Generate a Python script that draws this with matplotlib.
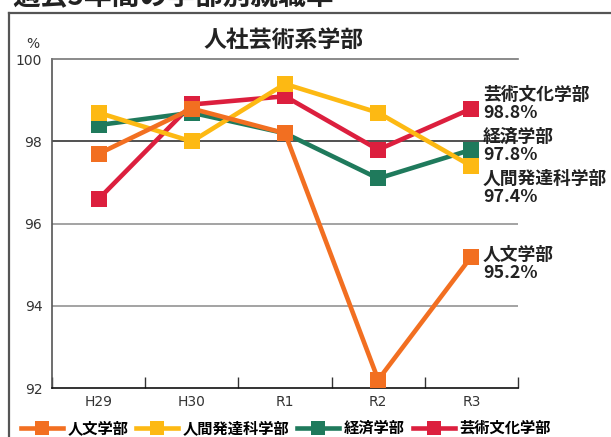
import matplotlib
matplotlib.use("Agg")
import matplotlib.pyplot as plt
from matplotlib.lines import Line2D

plt.rcParams['font.family'] = ['Noto Sans CJK JP', 'DejaVu Sans']

categories = ["H29", "H30", "R1", "R2", "R3"]
series_names = ["人文学部", "人間発達科学部", "経済学部", "芸術文化学部"]
jinbun = [97.7, 98.8, 98.2, 92.2, 95.2]
ningen = [98.7, 98.0, 99.4, 98.7, 97.4]
keizai = [98.4, 98.7, 98.2, 97.1, 97.8]
geijutsu = [96.6, 98.9, 99.1, 97.8, 98.8]
series_values = [jinbun, ningen, keizai, geijutsu]
colors = ["#F26F21", "#FDB913", "#1F7A5C", "#DC1F3E"]
zorders = [6, 5, 4, 3]
yticks = [92, 94, 96, 98, 100]
chart_title = "人社芸術系学部"
page_title = "過去5年間の学部別就職率"
# label block vertical centers (layout) for right-side annotations
label_y = {"芸術文化学部": 98.91, "経済学部": 97.89, "人間発達科学部": 96.86, "人文学部": 95.01}

W, H = 611, 437
fig = plt.figure(figsize=(W / 100, H / 100), dpi=100)
ax = fig.add_axes([52 / W, 1 - 388 / H, (518 - 52) / W, (388 - 59.3) / H])

x = list(range(len(categories)))
for name, vals, c, z in zip(series_names, series_values, colors, zorders):
    ax.plot(x, vals, color=c, lw=3.3, marker='s', markersize=11.2,
            markeredgewidth=0, zorder=z, label=name, solid_joinstyle='miter')

ax.set_xlim(-0.5, len(categories) - 0.5)
ax.set_ylim(92, 100)

for v in yticks[1:-1]:
    ax.axhline(v, color='#222222' if v == 98 else '#8a8a8a', lw=1.1, zorder=1)

ax.set_yticks(yticks)
ax.set_yticklabels([str(v) for v in yticks], fontsize=10, color='#333333',
                   family=['DejaVu Sans'])
ax.tick_params(axis='y', length=0, pad=7)
ax.set_xticks(x)
ax.set_xticklabels(categories, fontsize=10, color='#333333', family=['DejaVu Sans'])
ax.tick_params(axis='x', which='major', length=0, pad=5)
ax.set_xticks([i - 0.5 for i in range(len(categories) + 1)], minor=True)
ax.tick_params(axis='x', which='minor', direction='in', length=8, width=1, color='#333333')

ax.spines['right'].set_visible(False)
ax.spines['top'].set_color('#777777')
ax.spines['top'].set_linewidth(1.2)
ax.spines['left'].set_color('#555555')
ax.spines['left'].set_linewidth(1.2)
ax.spines['bottom'].set_color('#111111')
ax.spines['bottom'].set_linewidth(1.2)

# right-side annotations
for name, vals in zip(series_names, series_values):
    ax.text(4.125, label_y[name], f"{name}\n{vals[-1]:.1f}%", fontsize=12.8,
            fontweight='bold', color='#222222', va='center', ha='left',
            linespacing=1.0, clip_on=False)

fig.text(284 / W, 1 - 41 / H, chart_title, fontsize=16.5, fontweight='bold',
         color='#222222', ha='center', va='center')
fig.text(33 / W, 1 - 44 / H, "%", fontsize=10, color='#333333', ha='center',
         va='center', family=['DejaVu Sans'])

# cut-off page heading at the very top (cropped in the reference as well)
fig.text(12 / W, 1 - 5 / H, page_title, fontsize=20, fontweight='bold',
         color='#222222', ha='left', va='baseline')

# outer frame
fig.add_artist(Line2D([9 / W, 9 / W], [0, 1 - 13 / H], color='#555555', lw=1.6,
                      transform=fig.transFigure))
fig.add_artist(Line2D([9 / W, 1], [1 - 13 / H, 1 - 13 / H], color='#555555', lw=1.6,
                      transform=fig.transFigure))

leg = fig.legend(loc='center', bbox_to_anchor=(286 / W, 1 - 428 / H), ncol=4,
                 frameon=False, handlelength=2.75, handletextpad=0.3,
                 columnspacing=0.5, prop={'size': 11, 'weight': 'bold'},
                 markerscale=0.85)

fig.savefig("out.png", dpi=100)
